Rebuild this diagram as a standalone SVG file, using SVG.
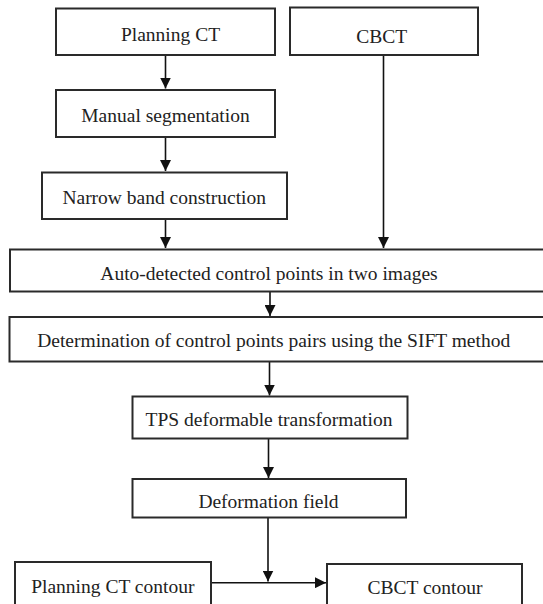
<svg xmlns="http://www.w3.org/2000/svg" width="543" height="604" viewBox="0 0 543 604">
<style>
.box{fill:#fff;stroke:#2a2a2a;stroke-width:2}
.lbl{font-family:'Liberation Serif', 'Times New Roman', Times, serif;font-size:19.5px;fill:#222;text-anchor:middle}
.con{stroke:#111;stroke-width:1.6;fill:none}
</style>
<defs>
<marker id="arr" markerUnits="userSpaceOnUse" markerWidth="11" markerHeight="11" refX="11" refY="5.5" orient="auto" viewBox="0 0 11 11">
<path d="M0,0 L11,5.5 L0,11 z" fill="#111"/>
</marker>
</defs>
<rect width="543" height="604" fill="#fff"/>
<g id="connectors">
<line class="con" x1="165.5" y1="55" x2="165.5" y2="88.5" marker-end="url(#arr)"/>
<line class="con" x1="165.5" y1="137" x2="165.5" y2="171" marker-end="url(#arr)"/>
<line class="con" x1="383.5" y1="55" x2="383.5" y2="248" marker-end="url(#arr)"/>
<line class="con" x1="165.5" y1="219" x2="165.5" y2="248" marker-end="url(#arr)"/>
<line class="con" x1="270" y1="291.5" x2="270" y2="316" marker-end="url(#arr)"/>
<line class="con" x1="269.5" y1="361.5" x2="269.5" y2="395.5" marker-end="url(#arr)"/>
<line class="con" x1="268.5" y1="438.5" x2="268.5" y2="478" marker-end="url(#arr)"/>
<line class="con" x1="268" y1="517.5" x2="268" y2="581.5" marker-end="url(#arr)"/>
<line class="con" x1="211" y1="582.7" x2="326" y2="582.7" marker-end="url(#arr)"/>
</g>
<g id="planning-ct"><rect class="box" x="56" y="8.5" width="219" height="46.5"/><text class="lbl" x="170.5" y="41">Planning CT</text></g>
<g id="cbct"><rect class="box" x="290" y="7.5" width="188" height="47.5"/><text class="lbl" x="381.7" y="43.3">CBCT</text></g>
<g id="manual-segmentation"><rect class="box" x="56" y="90" width="219" height="47"/><text class="lbl" x="165.5" y="121.7">Manual segmentation</text></g>
<g id="narrow-band"><rect class="box" x="42" y="172.5" width="245" height="46.5"/><text class="lbl" x="164.2" y="204">Narrow band construction</text></g>
<g id="auto-detected"><rect class="box" x="10" y="249.5" width="540" height="42"/><text class="lbl" x="269" y="280">Auto-detected control points in two images</text></g>
<g id="determination"><rect class="box" x="9.5" y="317" width="540" height="44.5"/><text class="lbl" x="273.7" y="346.7">Determination of control points pairs using the SIFT method</text></g>
<g id="tps"><rect class="box" x="132.5" y="396.5" width="275" height="42"/><text class="lbl" x="269" y="426">TPS deformable transformation</text></g>
<g id="deformation-field"><rect class="box" x="132.5" y="479" width="273.5" height="38.5"/><text class="lbl" x="268.5" y="508.3">Deformation field</text></g>
<g id="planning-ct-contour"><rect class="box" x="15" y="562" width="196" height="50"/><text class="lbl" x="112.8" y="592.7">Planning CT contour</text></g>
<g id="cbct-contour"><rect class="box" x="327" y="564" width="195" height="48"/><text class="lbl" x="425" y="594.3">CBCT contour</text></g>
</svg>
